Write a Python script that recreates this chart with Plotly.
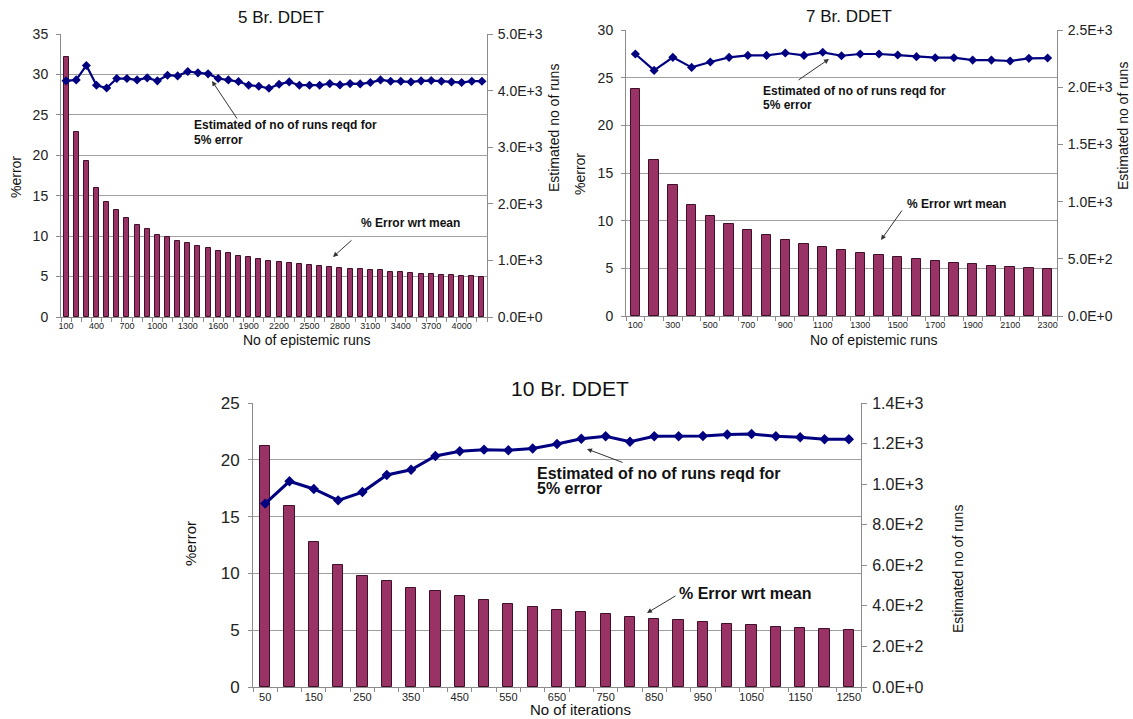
import plotly.graph_objects as go

W, H = 1133, 719

# ---------------- data ----------------
# 5 Br. DDET
runs5 = [100, 200, 300, 400, 500, 600, 700, 800, 900, 1000, 1100, 1200, 1300, 1400,
         1500, 1600, 1700, 1800, 1900, 2000, 2100, 2200, 2300, 2400, 2500, 2600, 2700,
         2800, 2900, 3000, 3100, 3200, 3300, 3400, 3500, 3600, 3700, 3800, 3900, 4000,
         4100, 4200]
err5 = [32.2, 22.9, 19.26, 16.0, 14.25, 13.26, 12.26, 11.43, 10.85, 10.19, 9.86, 9.4,
        9.11, 8.74, 8.49, 8.12, 7.87, 7.58, 7.37, 7.17, 6.96, 6.83, 6.71, 6.55, 6.42,
        6.30, 6.17, 6.09, 5.97, 5.88, 5.80, 5.76, 5.59, 5.55, 5.43, 5.34, 5.30, 5.22,
        5.14, 5.10, 5.05, 4.97]
est5 = [4172, 4189, 4444, 4095, 4047, 4213, 4213, 4189, 4225, 4172, 4272, 4260, 4337,
        4314, 4296, 4213, 4189, 4160, 4095, 4077, 4041, 4112, 4154, 4095, 4095, 4095,
        4124, 4101, 4124, 4118, 4142, 4189, 4166, 4166, 4154, 4172, 4178, 4166, 4154,
        4142, 4166, 4166]
xt5_vals = [100, 400, 700, 1000, 1300, 1600, 1900, 2200, 2500, 2800, 3100, 3400, 3700, 4000]
xt5_text = ["100", "400", "700", "1000", "1300", "1600", "1900", "2200", "2500", "2800",
            "3100", "3400", "3700", "4000"]
yl5_vals = [0, 5, 10, 15, 20, 25, 30, 35]
yr5_vals = [0, 1000, 2000, 3000, 4000, 5000]
yr5_text = ["0.0E+0", "1.0E+3", "2.0E+3", "3.0E+3", "4.0E+3", "5.0E+3"]

# 7 Br. DDET
runs7 = [100, 200, 300, 400, 500, 600, 700, 800, 900, 1000, 1100, 1200, 1300, 1400,
         1500, 1600, 1700, 1800, 1900, 2000, 2100, 2200, 2300]
err7 = [23.8, 16.38, 13.69, 11.69, 10.5, 9.66, 9.0, 8.47, 7.98, 7.53, 7.21, 6.9, 6.62,
        6.37, 6.16, 5.95, 5.74, 5.6, 5.43, 5.29, 5.18, 5.08, 4.97]
est7 = [2290, 2147, 2261, 2173, 2220, 2261, 2278, 2278, 2299, 2278, 2305, 2275, 2290,
        2290, 2281, 2267, 2258, 2258, 2237, 2237, 2229, 2252, 2255]
xt7_vals = [100, 300, 500, 700, 900, 1100, 1300, 1500, 1700, 1900, 2100, 2300]
xt7_text = ["100", "300", "500", "700", "900", "1100", "1300", "1500", "1700", "1900",
            "2100", "2300"]
yl7_vals = [0, 5, 10, 15, 20, 25, 30]
yr7_vals = [0, 500, 1000, 1500, 2000, 2500]
yr7_text = ["0.0E+0", "5.0E+2", "1.0E+3", "1.5E+3", "2.0E+3", "2.5E+3"]

# 10 Br. DDET
iters10 = [50, 100, 150, 200, 250, 300, 350, 400, 450, 500, 550, 600, 650, 700, 750,
           800, 850, 900, 950, 1000, 1050, 1100, 1150, 1200, 1250]
err10 = [21.2, 15.9, 12.76, 10.74, 9.77, 9.3, 8.74, 8.42, 8.01, 7.63, 7.28, 7.01, 6.78,
         6.6, 6.4, 6.16, 6.02, 5.87, 5.72, 5.58, 5.46, 5.28, 5.19, 5.08, 4.99]
est10 = [904, 1014, 976, 920, 961, 1045, 1071, 1139, 1162, 1170, 1167, 1176, 1198, 1224,
         1236, 1209, 1236, 1236, 1237, 1245, 1247, 1236, 1231, 1221, 1221]
xt10_vals = [50, 150, 250, 350, 450, 550, 650, 750, 850, 950, 1050, 1150, 1250]
xt10_text = ["50", "150", "250", "350", "450", "550", "650", "750", "850", "950", "1050",
             "1150", "1250"]
yl10_vals = [0, 5, 10, 15, 20, 25]
yr10_vals = [0, 200, 400, 600, 800, 1000, 1200, 1400]
yr10_text = ["0.0E+0", "2.0E+2", "4.0E+2", "6.0E+2", "8.0E+2", "1.0E+3", "1.2E+3", "1.4E+3"]

# ---------------- styling ----------------
FONT = "Liberation Sans, Arial, sans-serif"
BAR = "#993366"
BAR_EDGE = "#40102a"
LINE = "#000080"
GRID = "#a0a0a0"
AXIS = "#8c8c8c"


def px(x):
    return x / W


def py(y):
    return 1 - y / H


fig = go.Figure()

# chart 1
fig.add_trace(go.Bar(x=runs5, y=err5, width=50, marker=dict(color=BAR, line=dict(color=BAR_EDGE, width=1)),
                     xaxis="x", yaxis="y", showlegend=False))
fig.add_trace(go.Scatter(x=runs5, y=est5, mode="lines+markers", line=dict(color=LINE, width=2.2),
                         marker=dict(symbol="diamond", size=7, color=LINE),
                         xaxis="x", yaxis="y2", showlegend=False))
# chart 2
fig.add_trace(go.Bar(x=runs7, y=err7, width=50, marker=dict(color=BAR, line=dict(color=BAR_EDGE, width=1)),
                     xaxis="x2", yaxis="y3", showlegend=False))
fig.add_trace(go.Scatter(x=runs7, y=est7, mode="lines+markers", line=dict(color=LINE, width=2.2),
                         marker=dict(symbol="diamond", size=7, color=LINE),
                         xaxis="x2", yaxis="y4", showlegend=False))
# chart 3
fig.add_trace(go.Bar(x=iters10, y=err10, width=21, marker=dict(color=BAR, line=dict(color=BAR_EDGE, width=1)),
                     xaxis="x3", yaxis="y5", showlegend=False))
fig.add_trace(go.Scatter(x=iters10, y=est10, mode="lines+markers", line=dict(color=LINE, width=3),
                         marker=dict(symbol="diamond", size=8, color=LINE),
                         xaxis="x3", yaxis="y6", showlegend=False))


def xaxis(domain, anchor, rng, tv, tt, step, fs):
    return dict(domain=domain, anchor=anchor, range=rng, tickmode="array", tickvals=tv, ticktext=tt,
                ticks="", showgrid=False, zeroline=False, showline=True, linecolor=AXIS, linewidth=1,
                automargin=False,
                tickfont=dict(size=fs, color="#222"), ticklabelstandoff=0,
                minor=dict(ticks="outside", tick0=rng[0], dtick=step, ticklen=4, tickcolor=AXIS, showgrid=False))


def yleft(domain, anchor, rng, tv, fs):
    return dict(domain=domain, anchor=anchor, range=rng, tickmode="array", tickvals=tv,
                ticks="outside", ticklen=4, tickcolor=AXIS, showgrid=True, gridcolor=GRID, gridwidth=1,
                zeroline=False, showline=True, linecolor=AXIS, linewidth=1, automargin=False,
                tickfont=dict(size=fs, color="#222"), ticklabelstandoff=5)


def yright(over, anchor, rng, tv, tt, fs):
    return dict(overlaying=over, anchor=anchor, side="right", range=rng, tickmode="array", tickvals=tv,
                ticktext=tt, ticks="outside", ticklen=5, tickcolor=AXIS, showgrid=False, zeroline=False,
                showline=True, linecolor=AXIS, linewidth=1, automargin=False,
                tickfont=dict(size=fs, color="#222"), ticklabelstandoff=2)


d1x = [px(61), px(487)]
d1y = [py(317), py(34)]
d2x = [px(626), px(1057)]
d2y = [py(316), py(30)]
d3x = [px(253), px(861)]
d3y = [py(687), py(403)]

fig.update_layout(
    xaxis=xaxis(d1x, "y", [50, 4250], xt5_vals, xt5_text, 100, 9),
    yaxis=yleft(d1y, "x", [0, 35], yl5_vals, 14),
    yaxis2=yright("y", "x", [0, 5000], yr5_vals, yr5_text, 14),
    xaxis2=xaxis(d2x, "y3", [50, 2350], xt7_vals, xt7_text, 100, 9),
    yaxis3=yleft(d2y, "x2", [0, 30], yl7_vals, 14),
    yaxis4=yright("y3", "x2", [0, 2500], yr7_vals, yr7_text, 14),
    xaxis3=xaxis(d3x, "y5", [25, 1275], xt10_vals, xt10_text, 50, 11),
    yaxis5=yleft(d3y, "x3", [0, 25], yl10_vals, 17),
    yaxis6=yright("y5", "x3", [0, 1400], yr10_vals, yr10_text, 16),
)

ann = []


def text(x, y, s, size, angle=0, xanchor="center", bold=False):
    ann.append(dict(x=px(x), y=py(y), xref="paper", yref="paper", text=("<b>%s</b>" % s) if bold else s,
                    showarrow=False, xanchor=xanchor, yanchor="middle", textangle=angle,
                    font=dict(family=FONT, size=size, color="#111")))


def arrow(tx, ty, sx, sy):
    ann.append(dict(x=px(tx), y=py(ty), xref="paper", yref="paper", text="", showarrow=True,
                    ax=sx - tx, ay=sy - ty, axref="pixel", ayref="pixel", arrowhead=2, arrowsize=1,
                    arrowwidth=1, arrowcolor="#333", standoff=0, startstandoff=0))


# titles
text(281, 18, "5 Br. DDET", 17)
text(849, 17, "7 Br. DDET", 17)
text(570, 389, "10 Br. DDET", 21)
# axis titles
text(307, 340, "No of epistemic runs", 14)
text(874, 340, "No of epistemic runs", 14)
text(580, 709, "No of iterations", 15)
text(16, 177, "%error", 14, angle=-90)
text(580, 174, "%error", 14, angle=-90)
text(190, 544, "%error", 15, angle=-90)
text(554, 128, "Estimated no of runs", 14, angle=-90)
text(1123, 126, "Estimated no of runs", 14, angle=-90)
text(958, 569, "Estimated no of runs", 14, angle=-90)
# callouts
text(192, 125, "Estimated of no of runs reqd for", 12, xanchor="left", bold=True)
text(192, 140, "5% error", 12, xanchor="left", bold=True)
arrow(212, 81, 238, 120)
text(410, 223, "% Error wrt mean", 12, bold=True)
arrow(333, 257, 353, 239)

text(761, 91, "Estimated of no of runs reqd for", 12, xanchor="left", bold=True)
text(761, 105, "5% error", 12, xanchor="left", bold=True)
arrow(829, 59, 797, 81)
text(905, 204, "% Error wrt mean", 12, xanchor="left", bold=True)
arrow(881, 240, 903, 209)

text(535, 473, "Estimated of no of runs reqd for", 16, xanchor="left", bold=True)
text(535, 489, "5% error", 16, xanchor="left", bold=True)
arrow(587, 449, 624, 463)
text(677, 593, "% Error wrt mean", 16, xanchor="left", bold=True)
arrow(647, 613, 677, 595)

fig.update_layout(
    annotations=ann,
    width=W, height=H, autosize=False,
    margin=dict(l=0, r=0, t=0, b=0, pad=0, autoexpand=False),
    paper_bgcolor="white", plot_bgcolor="white",
    font=dict(family=FONT, color="#222"),
    bargap=0,
)

fig.write_html(
    "out.html",
    config={"displayModeBar": False},
    post_script=(
        "document.documentElement.style.overflow='hidden';"
        "document.body.style.margin='0';document.body.style.overflow='hidden';"
        "var gd=document.getElementById('{plot_id}');"
        "gd.style.position='fixed';gd.style.top='0px';gd.style.left='0px';"
    ),
)
